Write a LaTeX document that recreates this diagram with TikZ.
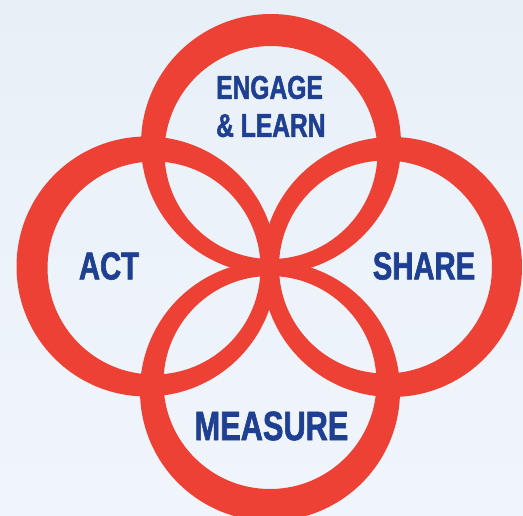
\documentclass[tikz,border=0pt]{standalone}
\usepackage{fontspec}
\setmainfont{Liberation Sans}[FakeStretch=0.75, BoldFeatures={FakeBold=1.5}]
\definecolor{ringred}{RGB}{238,65,54}
\definecolor{wordblue}{RGB}{30,63,146}
\definecolor{bgtop}{RGB}{232,240,247}
\definecolor{bgbottom}{RGB}{240,245,251}
\begin{document}
\begin{tikzpicture}[x=1pt, y=-1pt]

      \tikzset{
        ring/.style={
          fill=ringred,
          even odd rule,
        },
        word/.style={
          text=wordblue,
          inner sep=0pt,
          font=\bfseries\fontsize{#1}{38}\selectfont,
        },
      }

      \useasboundingbox (0,0) rectangle (523,515);
      \clip (0,0) rectangle (523,515);
      \shade[top color=bgtop, bottom color=bgbottom] (0,0) rectangle (523,515);

      % outer centre / inner centre of each ring
      \foreach \ox/\oy/\ix/\iy in {271/144/271/152.5, 146.5/266.5/154/268,
                                   392/267/385.5/267, 270/391/270/382.5} {
        \fill[ring] (\ox,\oy) circle[radius=130pt] (\ix,\iy) circle[radius=106.5pt];
      }

      \node[word=32.8, align=left, anchor=west] (engage) at (216,106.5) {ENGAGE\\\& LEARN};
      \node[word=39] (act) at (109,266) {ACT};
      \node[word=39] (share) at (424,266) {SHARE};
      \node[word=41] (measure) at (271.5,426) {MEASURE};

    \end{tikzpicture}
\end{document}
